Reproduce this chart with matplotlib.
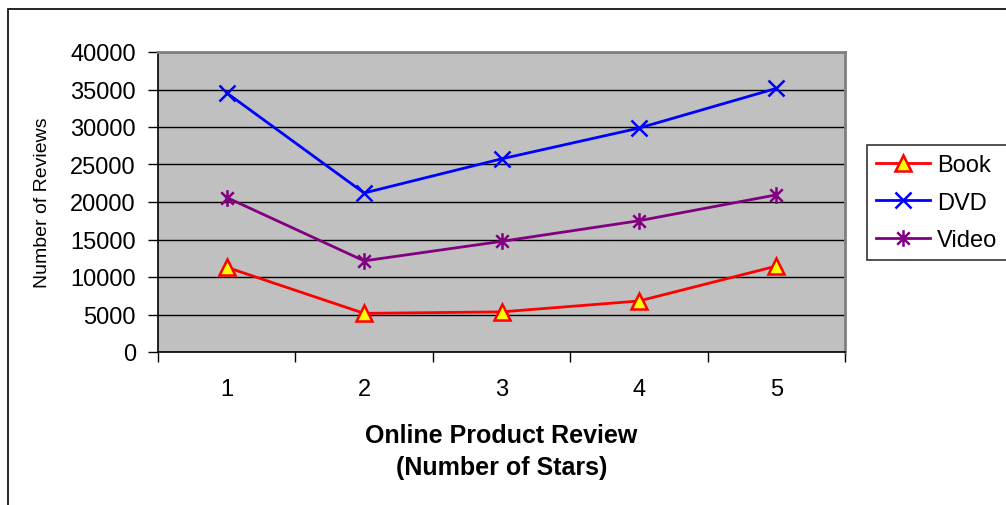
import matplotlib
matplotlib.use("Agg")
import matplotlib.pyplot as plt
from matplotlib.path import Path
from matplotlib.patches import Rectangle

# data
stars = [1, 2, 3, 4, 5]
book = [11300, 5150, 5350, 6800, 11450]
dvd = [34550, 21200, 25750, 29850, 35150]
video = [20600, 12150, 14750, 17500, 20950]
y_ticks = [0, 5000, 10000, 15000, 20000, 25000, 30000, 35000, 40000]

plt.rcParams["font.family"] = ["Liberation Sans", "DejaVu Sans"]

# Excel style asterisk: vertical bar plus an X
ASTERISK = Path(
    [(0, -1), (0, 1), (-0.75, -0.75), (0.75, 0.75), (-0.75, 0.75), (0.75, -0.75)],
    [Path.MOVETO, Path.LINETO, Path.MOVETO, Path.LINETO, Path.MOVETO, Path.LINETO],
)

fig = plt.figure(figsize=(10.06, 5.06), dpi=100)
fig.patches.append(
    Rectangle((8 / 1006, -0.2), 1.2, 1.2 - 10 / 506, transform=fig.transFigure,
              fill=False, edgecolor="black", linewidth=1.2)
)

ax = fig.add_axes([158 / 1006, 1 - 353 / 506, 687 / 1006, 300 / 506])
ax.set_facecolor("#C0C0C0")
ax.set_axisbelow(True)
ax.grid(True, axis="y", color="black", linewidth=1.0)

ax.plot(stars, book, color="#FF0000", linewidth=2.0, marker="^", markersize=11,
        markerfacecolor="#FFFF00", markeredgecolor="#FF0000", markeredgewidth=1.8,
        label="Book")
ax.plot(stars, dvd, color="#0000FF", linewidth=2.0, marker="x", markersize=11,
        markeredgewidth=1.8, label="DVD")
ax.plot(stars, video, color="#800080", linewidth=2.0, marker=ASTERISK, markersize=12,
        markeredgewidth=1.8, label="Video")

ax.set_xlim(0.5, 5.5)
ax.set_ylim(0, 40000)
ax.set_yticks(y_ticks)
ax.set_yticklabels([str(v) for v in y_ticks], fontsize=17)
ax.set_xticks(stars)
ax.set_xticklabels([str(s) for s in stars], fontsize=17)
ax.set_xticks([s - 0.5 for s in stars] + [5.5], minor=True)
ax.tick_params(axis="x", which="major", length=0, pad=19)
ax.tick_params(axis="x", which="minor", length=7, width=1, direction="out")
ax.tick_params(axis="y", length=7, width=1, direction="out", pad=9)

for side in ("top", "right"):
    ax.spines[side].set_color("#808080")
    ax.spines[side].set_linewidth(2.0)
for side in ("left", "bottom"):
    ax.spines[side].set_color("black")
    ax.spines[side].set_linewidth(1.2)

ax.set_ylabel("Number of Reviews", fontsize=14, labelpad=14)
ax.set_xlabel("Online Product Review\n(Number of Stars)", fontsize=18,
              fontweight="bold", labelpad=16, linespacing=1.45)

leg = fig.legend(loc="upper left", bbox_to_anchor=(867 / 1006, 1 - 146 / 506),
                 fontsize=17, frameon=True, fancybox=False, handlelength=2.3,
                 handletextpad=0.3, labelspacing=0.66, borderpad=0.38,
                 borderaxespad=0)
leg.get_frame().set_edgecolor("black")
leg.get_frame().set_linewidth(1.2)

fig.savefig("out.png", dpi=100)
